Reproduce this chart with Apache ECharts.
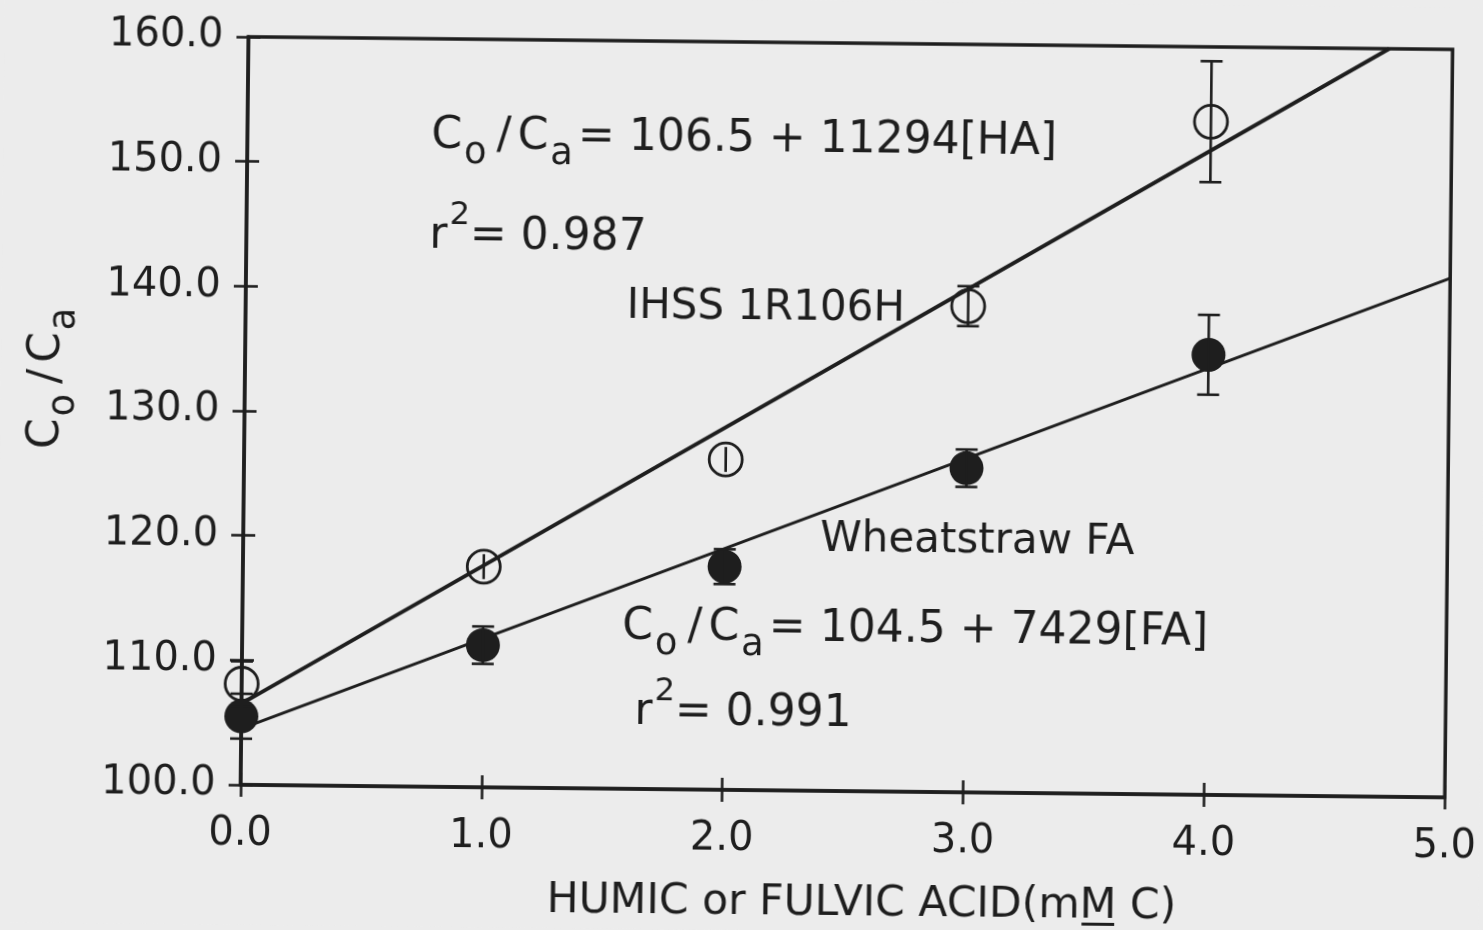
<!DOCTYPE html>
<html>
<head>
<meta charset="utf-8">
<script src="https://cdn.jsdelivr.net/npm/echarts@6/dist/echarts.min.js"></script>
<style>
  html, body { margin: 0; padding: 0; background: #ececec; overflow: hidden; }
  #chart { width: 1483px; height: 930px; transform: rotate(0.6deg); transform-origin: 741.5px 465px; }
</style>
</head>
<body>
<div id="chart"></div>
<script>
// Concentration of humic / fulvic acid (mM C)
const concentration = [0, 1, 2, 3, 4];

// IHSS 1R106H humic acid: Co/Ca and its error
const humicRatio = [108.1, 117.7, 126.5, 139.0, 154.0];
const humicError = [1.8, 1.0, 1.0, 1.6, 4.85];

// Wheatstraw fulvic acid: Co/Ca and its error
const fulvicRatio = [105.5, 111.4, 117.9, 126.0, 135.3];
const fulvicError = [1.8, 1.5, 1.4, 1.5, 3.2];

// Linear fits, slope per M of carbon
const humicFit = { intercept: 106.5, slope: 11294, r2: 0.987 };
const fulvicFit = { intercept: 104.5, slope: 7429, r2: 0.991 };

// Axis ranges
const xRange = [0, 5];
const yRange = [100, 160];
const xStep = 1;
const yStep = 10;

const ink = '#1e1e1e';
const FONT = '"DejaVu Sans", sans-serif';
const CIRCLE = 33;

function fitLine(fit) {
  const k = fit.slope / 1000; // per mM
  const xEnd = Math.min(xRange[1], (yRange[1] - fit.intercept) / k);
  return [[xRange[0], fit.intercept + k * xRange[0]], [xEnd, fit.intercept + k * xEnd]];
}

function errorBars(values, errors, radius) {
  return {
    type: 'custom',
    z: 6,
    silent: true,
    encode: { x: 0, y: [1, 2] },
    data: concentration.map((x, i) => [x, values[i] - errors[i], values[i] + errors[i]]),
    renderItem(params, api) {
      const x = api.value(0);
      const lo = api.coord([x, api.value(1)]);
      const hi = api.coord([x, api.value(2)]);
      const style = { stroke: ink, lineWidth: 2.6 };
      const children = [{ type: 'line', shape: { x1: lo[0], y1: lo[1], x2: hi[0], y2: hi[1] }, style }];
      if (Math.abs(lo[1] - hi[1]) / 2 > radius) {
        const w = 11;
        children.push({ type: 'line', shape: { x1: lo[0] - w, y1: lo[1], x2: lo[0] + w, y2: lo[1] }, style });
        children.push({ type: 'line', shape: { x1: hi[0] - w, y1: hi[1], x2: hi[0] + w, y2: hi[1] }, style });
      }
      return { type: 'group', children };
    }
  };
}

const rich = {
  n: { fontSize: 44, fontFamily: FONT, fill: ink },
  w: { fontSize: 42, fontFamily: FONT, fill: ink },
  sl: { fontSize: 44, fontFamily: FONT, fill: ink, padding: [0, 6, 0, 5] },
  s: { fontSize: 37, fontFamily: FONT, fill: ink, padding: [32, 5, 0, 2] },
  p: { fontSize: 32, fontFamily: FONT, fill: ink, padding: [0, 0, 42, 2] }
};

function equationText(fit, tag) {
  return '{n|C}{s|o}{sl|/}{n|C}{s|a}{n|= ' + fit.intercept.toFixed(1) + ' + ' + fit.slope + '[' + tag + ']}';
}
function r2Text(fit) {
  return '{n|r}{p|2}{n|= ' + fit.r2.toFixed(3) + '}';
}
function note(x, y, text) {
  return { type: 'text', x, y, silent: true, style: { text, rich, fill: ink, fontSize: 44, fontFamily: FONT, verticalAlign: 'middle', align: 'left' } };
}

// x-axis title with the molar M underlined
const xTitleLead = 'HUMIC or FULVIC ACID(m';
const xTitleFull = xTitleLead + 'M C)';
const X_TITLE_SIZE = 42.5;
const measure = document.createElement('canvas').getContext('2d');
measure.font = X_TITLE_SIZE + 'px "DejaVu Sans"';
const fullW = measure.measureText(xTitleFull).width;
const leadW = measure.measureText(xTitleLead).width;
const mW = measure.measureText('M').width;
const xTitleLeft = 866 - fullW / 2;

const chart = echarts.init(document.getElementById('chart'), null, { renderer: 'canvas' });

const tickLabel = { fontSize: 40, fontFamily: FONT, color: ink, formatter: v => v.toFixed(1) };
const tickStyle = { color: ink, width: 2.6 };

chart.setOption({
  backgroundColor: '#ececec',
  animation: false,
  grid: { left: 244, right: 34, top: 42, bottom: 140, show: true, borderColor: ink, borderWidth: 3.5, backgroundColor: 'transparent' },
  xAxis: [
    {
      type: 'value', min: xRange[0], max: xRange[1], interval: xStep, position: 'bottom',
      axisLine: { show: true, onZero: false, lineStyle: { color: ink, width: 3.5 } },
      axisTick: { show: true, inside: false, length: 12, lineStyle: tickStyle },
      axisLabel: Object.assign({ margin: 30 }, tickLabel),
      splitLine: { show: false }
    },
    {
      type: 'value', min: xRange[0], max: xRange[1], interval: xStep, position: 'bottom',
      axisLine: { show: false },
      axisTick: { show: true, inside: true, length: 12, lineStyle: tickStyle },
      axisLabel: { show: false },
      splitLine: { show: false }
    }
  ],
  yAxis: [
    {
      type: 'value', min: yRange[0], max: yRange[1], interval: yStep, position: 'left',
      axisLine: { show: true, onZero: false, lineStyle: { color: ink, width: 3.5 } },
      axisTick: { show: true, inside: false, length: 12, lineStyle: tickStyle },
      axisLabel: Object.assign({ margin: 25 }, tickLabel),
      splitLine: { show: false }
    },
    {
      type: 'value', min: yRange[0], max: yRange[1], interval: yStep, position: 'left',
      axisLine: { show: false },
      axisTick: { show: true, inside: true, length: 12, lineStyle: tickStyle },
      axisLabel: { show: false },
      splitLine: { show: false }
    }
  ],
  series: [
    {
      name: 'IHSS 1R106H fit', type: 'line', data: fitLine(humicFit), showSymbol: false, z: 3,
      lineStyle: { color: ink, width: 3.8 }
    },
    {
      name: 'Wheatstraw FA fit', type: 'line', data: fitLine(fulvicFit), showSymbol: false, z: 3,
      lineStyle: { color: ink, width: 2.8 }
    },
    {
      name: 'IHSS 1R106H', type: 'scatter', symbol: 'circle', symbolSize: CIRCLE, z: 4,
      data: concentration.map((x, i) => [x, humicRatio[i]]),
      itemStyle: { color: 'rgba(0,0,0,0)', borderColor: ink, borderWidth: 2.8, opacity: 1 }
    },
    {
      name: 'Wheatstraw FA', type: 'scatter', symbol: 'circle', symbolSize: 34, z: 4,
      data: concentration.map((x, i) => [x, fulvicRatio[i]]),
      itemStyle: { color: ink, opacity: 1 }
    },
    errorBars(humicRatio, humicError, CIRCLE / 2),
    errorBars(fulvicRatio, fulvicError, 17)
  ],
  graphic: [
    note(428, 140, equationText(humicFit, 'HA')),
    note(427, 240, r2Text(humicFit)),
    note(625, 308, '{w|IHSS 1R106H}'),
    note(821, 539, '{w|Wheatstraw FA}'),
    note(624, 629, equationText(fulvicFit, 'FA')),
    note(637, 714, r2Text(fulvicFit)),
    {
      type: 'text', x: 47, y: 383, rotation: Math.PI / 2, silent: true,
      style: { text: '{n|C}{s|o}{sl|/}{n|C}{s|a}', rich, fill: ink, fontSize: 44, fontFamily: FONT, align: 'center', verticalAlign: 'middle' }
    },
    {
      type: 'group', silent: true,
      children: [
        { type: 'text', x: xTitleLeft, y: 903, style: { text: xTitleFull, fill: ink, fontSize: X_TITLE_SIZE, fontFamily: FONT, align: 'left', verticalAlign: 'middle' } },
        { type: 'rect', shape: { x: xTitleLeft + leadW + 2, y: 919, width: mW - 4, height: 3 }, style: { fill: ink } }
      ]
    }
  ]
});
</script>
</body>
</html>
